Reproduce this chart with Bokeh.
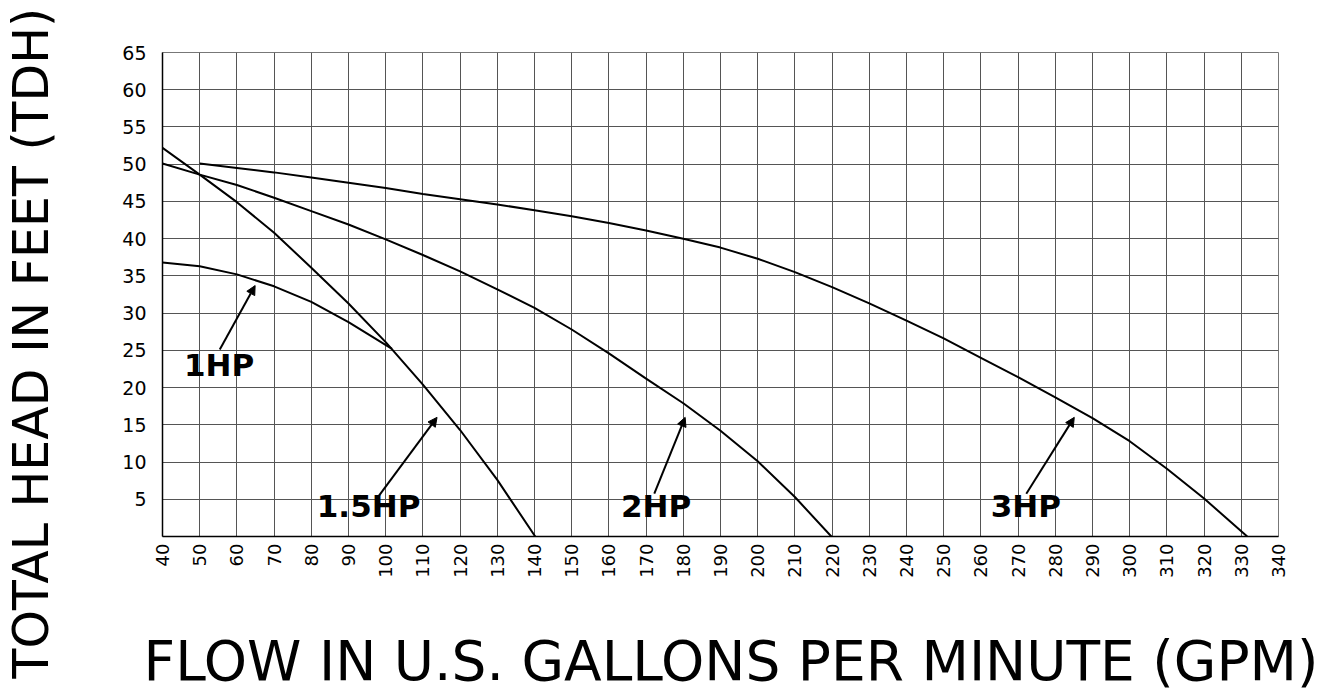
import math
from bokeh.plotting import figure
from bokeh.models import FixedTicker, Label, Arrow, NormalHead, Title
from bokeh.embed import file_html
from bokeh.resources import INLINE

# ---- tick values ----
gpm_ticks = [40, 50, 60, 70, 80, 90, 100, 110, 120, 130, 140, 150, 160, 170, 180,
             190, 200, 210, 220, 230, 240, 250, 260, 270, 280, 290, 300, 310, 320,
             330, 340]
head_ticks = [5, 10, 15, 20, 25, 30, 35, 40, 45, 50, 55, 60, 65]
head_grid = [0, 5, 10, 15, 20, 25, 30, 35, 40, 45, 50, 55, 60, 65]

# ---- pump curves (flow GPM, head ft) ----
flow_1hp = [40, 50, 60, 70, 80, 90, 101.7]
head_1hp = [36.8, 36.3, 35.2, 33.6, 31.5, 28.8, 25.2]

flow_15hp = [40, 50, 60, 70, 80, 90, 100, 110, 120, 130, 140.2]
head_15hp = [52.2, 48.6, 44.9, 40.8, 36.1, 31.3, 26.1, 20.4, 14.3, 7.6, 0.0]

flow_2hp = [40, 50, 60, 70, 80, 90, 100, 110, 120, 130, 140, 150, 160, 170, 180,
            190, 200, 210, 219.8]
head_2hp = [50.1, 48.6, 47.2, 45.5, 43.7, 41.9, 39.9, 37.8, 35.6, 33.2, 30.7,
            27.8, 24.6, 21.2, 17.9, 14.2, 10.1, 5.3, 0.0]

flow_3hp = [50, 60, 70, 80, 90, 100, 110, 120, 130, 140, 150, 160, 170, 180, 190,
            200, 210, 220, 230, 240, 250, 260, 270, 280, 290, 300, 310, 320, 331.6]
head_3hp = [50.1, 49.5, 48.9, 48.2, 47.5, 46.8, 46.0, 45.3, 44.6, 43.8, 43.0, 42.1,
            41.1, 40.0, 38.8, 37.3, 35.5, 33.5, 31.3, 29.0, 26.6, 24.0, 21.4, 18.7,
            15.9, 12.8, 9.1, 5.1, 0.0]

# ---- curve labels and pointer arrows ----
curve_labels = ["1HP", "1.5HP", "2HP", "3HP"]
label_x = [55.2, 95.4, 172.7, 272.1]
label_y = [23.0, 4.1, 4.1, 4.1]
arrow_x0 = [55.4, 98.2, 172.2, 272.2]
arrow_y0 = [25.1, 5.5, 5.75, 5.75]
arrow_x1 = [64.9, 113.8, 180.5, 285.1]
arrow_y1 = [33.7, 16.0, 16.0, 16.0]

x_title = "FLOW IN U.S. GALLONS PER MINUTE (GPM)"
y_title = "TOTAL HEAD IN FEET (TDH)"

FONT = "DejaVu Sans"

p = figure(width=1332, height=690, x_range=(40, 340), y_range=(0, 65),
           output_backend="svg", toolbar_location=None,
           min_border_left=162, min_border_right=54,
           min_border_top=52, min_border_bottom=154)
p.background_fill_color = "white"
p.border_fill_color = "white"
p.outline_line_color = "#777777"
p.outline_line_width = 1

# axes
p.xaxis.ticker = FixedTicker(ticks=gpm_ticks)
p.yaxis.ticker = FixedTicker(ticks=head_ticks)
for ax in (p.xaxis, p.yaxis):
    ax.major_tick_in = 0
    ax.major_tick_out = 0
    ax.minor_tick_in = 0
    ax.minor_tick_out = 0
    ax.axis_line_color = "black"
    ax.axis_line_width = 1.5
    ax.major_label_text_font = FONT
    ax.major_label_text_color = "black"
p.xaxis.major_label_text_font_size = "18px"
p.xaxis.major_label_orientation = math.pi / 2
p.xaxis.major_label_standoff = 7
p.yaxis.major_label_text_font_size = "19px"
p.yaxis.major_label_standoff = 16

# grid
p.xgrid.ticker = FixedTicker(ticks=gpm_ticks)
p.ygrid.ticker = FixedTicker(ticks=head_grid)
for g in (p.xgrid, p.ygrid):
    g.grid_line_color = "#555555"
    g.grid_line_width = 1
    g.grid_line_alpha = 1.0

# curves
for fx, hy in ((flow_1hp, head_1hp), (flow_15hp, head_15hp),
               (flow_2hp, head_2hp), (flow_3hp, head_3hp)):
    p.line(fx, hy, line_color="black", line_width=2)

# arrows and labels
for i, txt in enumerate(curve_labels):
    p.add_layout(Arrow(x_start=arrow_x0[i], y_start=arrow_y0[i],
                       x_end=arrow_x1[i], y_end=arrow_y1[i],
                       line_color="black", line_width=2,
                       end=NormalHead(size=9, fill_color="black",
                                      line_color="black", line_width=1)))
    p.add_layout(Label(x=label_x[i], y=label_y[i], text=txt,
                       text_font=FONT, text_font_style="bold",
                       text_font_size="31px", text_color="black",
                       text_align="center", text_baseline="alphabetic"))


def spacer(gap):
    return Title(text=" ", text_font_size="1px", standoff=gap)


def side_title(text, size, offset, valign, standoff):
    return Title(text=text, text_font=FONT, text_font_style="normal",
                 text_font_size=size, text_color="black",
                 align="left", vertical_align=valign,
                 offset=offset, standoff=standoff)


# axis titles: spacer panel + title panel outside the tick axes
p.add_layout(spacer(48.5), "below")
p.add_layout(side_title(x_title, "55px", -19, "bottom", -11.4), "below")
p.add_layout(spacer(57), "left")
p.add_layout(side_title(y_title, "49px", -142, "top", -4), "left")

open("out.html", "w").write(file_html(p, INLINE))
